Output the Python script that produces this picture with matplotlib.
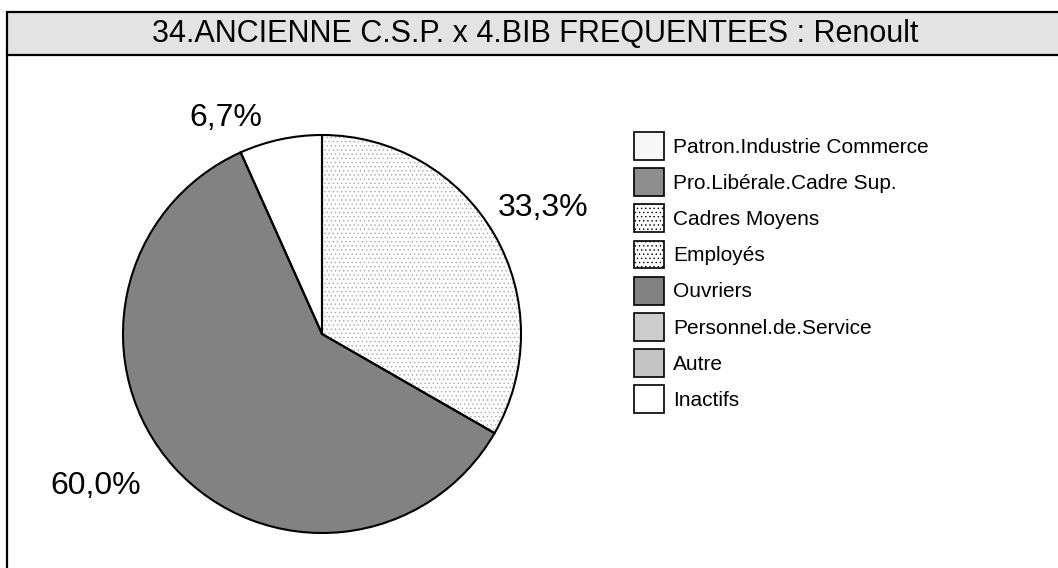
import matplotlib
matplotlib.use("Agg")
import matplotlib.pyplot as plt
from matplotlib.patches import Patch, Rectangle
from matplotlib.lines import Line2D
import numpy as np

plt.rcParams["font.family"] = ["Liberation Sans", "DejaVu Sans"]
plt.rcParams["hatch.linewidth"] = 0.5

TITLE = "34.ANCIENNE C.S.P. x 4.BIB FREQUENTEES : Renoult"

categories = [
    "Patron.Industrie Commerce",
    "Pro.Libérale.Cadre Sup.",
    "Cadres Moyens",
    "Employés",
    "Ouvriers",
    "Personnel.de.Service",
    "Autre",
    "Inactifs",
]
percent = [0.0, 0.0, 0.0, 33.3, 60.0, 0.0, 0.0, 6.7]

# fill, hatch for each category
fills = ["#f7f7f7", "#8e8e8e", "#ffffff", "#ffffff", "#828282", "#cdcdcd", "#c4c4c4", "#ffffff"]
hatches = ["", "", "....", "....", "", "", "", ""]

# label placement per non-empty slice: (angle in degrees, radius)
label_place = {"Employés": (29.6, 1.28), "Ouvriers": (214.0, 1.37), "Inactifs": (114.0, 1.19)}

W, H = 1058, 568
fig = plt.figure(figsize=(W / 100, H / 100), dpi=100)
fig.patch.set_facecolor("white")


def px(x, y):
    return x / W, 1 - y / H


# title band and left frame line
band = Rectangle(px(7, 55), (W + 10 - 7) / W, 43 / H, transform=fig.transFigure,
                 facecolor="#e3e3e3", edgecolor="black", linewidth=1.6)
fig.patches.append(band)
fig.lines.append(Line2D([7 / W, 7 / W], [0, 1 - 55 / H], transform=fig.transFigure,
                        color="black", linewidth=1.6))
fig.text(*px(535, 34), TITLE, ha="center", va="center", fontsize=22)

# pie
cx, cy, r = 322, 334, 199
ax = fig.add_axes([(cx - r) / W, 1 - (cy + r) / H, 2 * r / W, 2 * r / H])

vals = np.array(percent)
keep = vals > 0
wedges, _ = ax.pie(vals[keep], colors=[c for c, k in zip(fills, keep) if k],
                   startangle=90, counterclock=False, radius=1,
                   wedgeprops=dict(edgecolor="#a8a8a8", linewidth=0))
for w, h in zip(wedges, [hh for hh, k in zip(hatches, keep) if k]):
    w.set_hatch(h)
ax.pie(vals[keep], startangle=90, counterclock=False, radius=1,
       wedgeprops=dict(fill=False, edgecolor="black", linewidth=1.5))
ax.set_xlim(-1, 1)
ax.set_ylim(-1, 1)
ax.set_aspect("equal")
ax.axis("off")

for name, v in zip(categories, percent):
    if v <= 0:
        continue
    ang, rad = label_place[name]
    t = np.deg2rad(ang)
    ax.text(rad * np.cos(t), rad * np.sin(t), f"{v:.1f}%".replace(".", ","),
            ha="center", va="center", fontsize=23, clip_on=False)

# legend
handles = [Patch(facecolor=f, edgecolor="black", hatch=h, linewidth=1.2)
           for f, h in zip(fills, hatches)]
fs = 15
leg = fig.legend(handles, categories, loc="upper left", bbox_to_anchor=px(634, 132),
                 frameon=False, fontsize=fs, borderpad=0, borderaxespad=0,
                 handlelength=1.44, handleheight=1.68, labelspacing=0.40,
                 handletextpad=0.45)

fig.savefig("out.png", dpi=100)
